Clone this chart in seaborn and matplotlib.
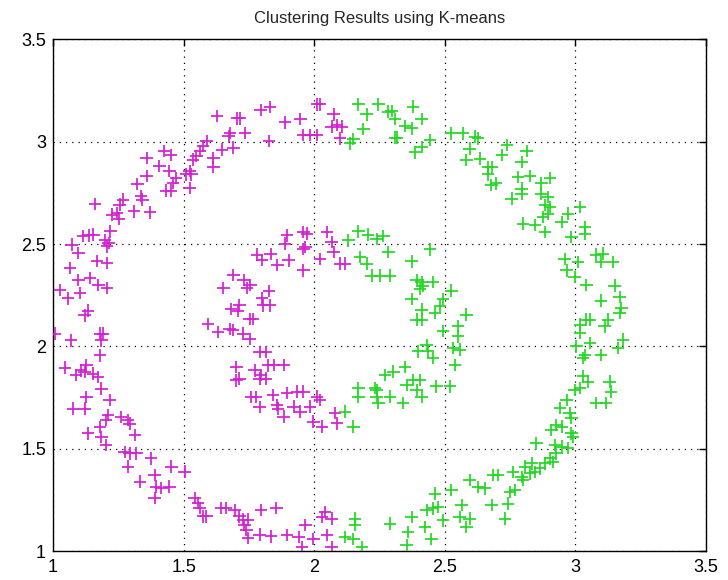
import matplotlib
matplotlib.use("Agg")
import matplotlib.pyplot as plt
import seaborn as sns
import pandas as pd

# ---- data (cluster 1: magenta, cluster 2: green) ----
magenta_x = [
    1.627, 1.704, 1.717, 1.795, 1.831, 1.827, 1.736, 1.678, 1.672, 1.691, 1.646, 1.614, 1.614, 1.588, 1.575,
    1.562, 1.549, 1.536, 1.523, 1.510, 1.530, 1.523, 1.472, 1.459, 1.433, 1.452, 1.426, 1.452, 1.407, 1.446,
    1.358, 1.358, 1.323, 1.336, 1.342, 1.310, 1.371, 1.267, 1.255, 1.245, 1.226, 1.252, 1.161, 1.220, 1.200,
    1.213, 1.207, 1.155, 1.136, 1.116, 1.071, 1.097, 1.065, 1.168, 1.207, 1.142, 1.097, 1.174, 1.207, 1.026,
    1.058, 1.103,
    1.782, 1.801, 1.833, 1.859, 1.691, 1.730, 1.756, 1.652, 1.743, 1.827, 1.801,
    1.889, 1.947, 1.959, 1.985, 2.010, 2.010, 2.023, 2.074, 2.067, 2.087, 2.106, 2.099,
    1.896, 1.889, 1.959, 1.972, 1.966, 1.959, 2.048, 2.067, 2.074, 2.023, 2.099, 2.118, 1.902, 1.959,
    1.134, 1.121, 1.006, 1.070, 1.179, 1.191, 1.185, 1.179, 1.045, 1.089, 1.108, 1.128, 1.121, 1.153, 1.172,
    1.185, 1.128, 1.121, 1.077, 1.217, 1.210, 1.204, 1.261, 1.287, 1.293, 1.313, 1.134, 1.179, 1.185, 1.204,
    1.274, 1.293, 1.319, 1.287, 1.376, 1.332, 1.389, 1.395, 1.415, 1.446, 1.453, 1.389, 1.504,
    1.542, 1.555, 1.561, 1.574, 1.587, 1.644, 1.663, 1.695, 1.714, 1.727, 1.746, 1.740, 1.733, 1.746, 1.791,
    1.835, 1.797, 1.855,
    1.804, 1.829, 1.682, 1.714, 1.708, 1.753, 1.765, 1.593, 1.631, 1.676, 1.689, 1.727, 1.753, 1.791, 1.816,
    1.823, 1.702, 1.714, 1.702, 1.772, 1.791, 1.797, 1.816, 1.759, 1.778, 1.791, 1.842, 1.861,
    1.883, 1.845, 1.896, 1.934, 1.959, 1.858, 1.883, 1.921, 1.947, 1.985, 2.010, 2.023, 1.997, 2.029, 2.080,
    2.087,
    1.966, 2.029, 2.042, 2.067, 1.896, 1.940, 1.953, 1.997, 2.048, 2.067,
]
magenta_y = [
    3.126, 3.114, 3.114, 3.154, 3.170, 3.003, 3.044, 3.044, 3.028, 2.971, 2.962, 2.922, 2.876, 3.003, 2.979,
    2.954, 2.930, 2.913, 2.856, 2.840, 2.840, 2.775, 2.824, 2.799, 2.761, 2.761, 2.954, 2.935, 2.881, 2.856,
    2.922, 2.832, 2.794, 2.734, 2.717, 2.660, 2.655, 2.717, 2.693, 2.652, 2.644, 2.624, 2.696, 2.562, 2.521,
    2.505, 2.489, 2.546, 2.542, 2.538, 2.497, 2.456, 2.382, 2.418, 2.407, 2.333, 2.325, 2.301, 2.284, 2.276,
    2.235, 2.260,
    2.448, 2.423, 2.451, 2.399, 2.350, 2.325, 2.301, 2.284, 2.284, 2.271, 2.235,
    3.095, 3.111, 3.033, 3.033, 3.033, 3.183, 3.183, 3.134, 3.074, 3.082, 3.074, 3.016,
    2.542, 2.502, 2.559, 2.551, 2.485, 2.477, 2.559, 2.510, 2.461, 2.428, 2.404, 2.404, 2.420, 2.371,
    2.175, 2.151, 2.062, 2.029, 2.062, 2.062, 2.029, 1.956, 1.896, 1.859, 1.883, 1.907, 1.875, 1.867, 1.851,
    1.794, 1.753, 1.696, 1.696, 1.737, 1.664, 1.640, 1.656, 1.640, 1.623, 1.567, 1.575, 1.607, 1.558, 1.518,
    1.485, 1.477, 1.477, 1.412, 1.453, 1.339, 1.372, 1.315, 1.307, 1.315, 1.412, 1.258, 1.388,
    1.258, 1.234, 1.209, 1.169, 1.169, 1.209, 1.209, 1.201, 1.169, 1.153, 1.153, 1.104, 1.128, 1.063, 1.080,
    1.071, 1.201, 1.209,
    2.200, 2.200, 2.183, 2.200, 2.175, 2.135, 2.135, 2.110, 2.070, 2.086, 2.081, 2.062, 2.037, 1.972, 1.972,
    1.907, 1.899, 1.843, 1.834, 1.883, 1.843, 1.859, 1.843, 1.753, 1.753, 1.705, 1.761, 1.696,
    1.910, 1.910, 1.771, 1.779, 1.779, 1.714, 1.657, 1.706, 1.681, 1.706, 1.755, 1.739, 1.632, 1.608, 1.673,
    1.624,
    1.126, 1.167, 1.191, 1.158, 1.077, 1.069, 1.020, 1.060, 1.077, 1.020,
]

green_x = [
    2.169, 2.201, 2.246, 2.284, 2.296, 2.309, 2.379, 2.411, 2.188, 2.150, 2.137, 2.309, 2.316, 2.347, 2.373,
    2.443, 2.411, 2.385, 2.525, 2.570, 2.615, 2.627, 2.595, 2.583, 2.634, 2.665, 2.665, 2.678, 2.697,
    2.737, 2.718, 2.679, 2.813, 2.794, 2.781, 2.826, 2.794, 2.794, 2.756, 2.870, 2.902, 2.870, 2.896, 2.883,
    2.902, 2.896, 2.877, 2.800, 2.845, 2.883, 2.947, 2.972, 3.017, 2.985, 3.036, 3.036, 2.959, 3.010, 2.966,
    2.997, 3.042, 3.080, 3.106, 3.099, 3.144, 3.150, 3.169, 3.099,
    3.176, 3.169, 3.125, 3.112, 3.055, 3.042, 3.017, 3.017, 3.004, 3.055, 3.036, 3.029, 3.099, 3.182, 3.163,
    3.029, 3.048, 3.017, 2.997, 3.131, 3.137, 3.080, 3.118, 2.966, 2.940, 2.978, 2.985, 2.927, 2.947, 2.908,
    2.985, 2.991, 2.851, 2.921, 2.947, 2.972, 2.927, 2.902, 2.915, 2.883, 2.864, 2.832, 2.807, 2.845, 2.826,
    2.800, 2.794, 2.762, 2.768, 2.749, 2.743, 2.730, 2.686, 2.679,
    2.131, 2.169, 2.207, 2.239, 2.265, 2.284, 2.176, 2.201, 2.220, 2.252, 2.290, 2.373, 2.443, 2.392, 2.411,
    2.417, 2.455, 2.405, 2.373, 2.525, 2.494,
    2.411, 2.411, 2.392, 2.462, 2.481, 2.583, 2.551, 2.494, 2.551, 2.557, 2.532, 2.430, 2.436, 2.455, 2.398,
    2.538, 2.347, 2.303, 2.271, 2.169, 2.169, 2.233, 2.239, 2.246, 2.239, 2.290, 2.341, 2.354, 2.379, 2.405,
    2.392, 2.411, 2.468, 2.519, 2.118, 2.150,
    2.156, 2.156, 2.118, 2.150, 2.182, 2.290, 2.373, 2.360, 2.354, 2.424, 2.449, 2.430, 2.455, 2.462, 2.475,
    2.494, 2.525, 2.564, 2.557, 2.595, 2.583, 2.595, 2.627, 2.653, 2.704,
]
green_y = [
    3.183, 3.134, 3.183, 3.147, 3.150, 3.111, 3.172, 3.111, 3.062, 3.013, 2.992, 3.020, 3.020, 3.078, 3.065,
    3.008, 2.975, 2.948, 3.041, 3.041, 3.025, 3.016, 2.967, 2.910, 2.918, 2.877, 2.840, 2.788, 2.796,
    2.984, 2.935, 2.877, 2.954, 2.902, 2.828, 2.833, 2.771, 2.747, 2.722, 2.796, 2.824, 2.747, 2.730, 2.690,
    2.681, 2.649, 2.632, 2.600, 2.592, 2.559, 2.608, 2.649, 2.681, 2.534, 2.583, 2.551, 2.428, 2.412, 2.371,
    2.338, 2.301, 2.448, 2.453, 2.412, 2.412, 2.297, 2.240, 2.224,
    2.188, 2.163, 2.131, 2.098, 2.131, 2.131, 2.106, 2.065, 2.000, 2.016, 1.959, 1.943, 1.959, 2.033, 1.992,
    1.853, 1.828, 1.796, 1.788, 1.828, 1.779, 1.722, 1.722, 1.739, 1.698, 1.673, 1.649, 1.616, 1.608, 1.591,
    1.575, 1.559, 1.526, 1.518, 1.510, 1.502, 1.477, 1.453, 1.436, 1.428, 1.404, 1.428, 1.412, 1.387, 1.379,
    1.346, 1.363, 1.387, 1.297, 1.289, 1.232, 1.158, 1.371, 1.224,
    2.518, 2.562, 2.546, 2.526, 2.539, 2.461, 2.436, 2.404, 2.346, 2.346, 2.346, 2.415, 2.474, 2.322, 2.314,
    2.297, 2.314, 2.281, 2.232, 2.273, 2.232,
    2.180, 2.131, 2.131, 2.163, 2.196, 2.155, 2.098, 2.074, 2.049, 1.984, 1.992, 2.008, 1.975, 1.943, 1.975,
    1.910, 1.899, 1.877, 1.861, 1.796, 1.755, 1.796, 1.788, 1.722, 1.755, 1.755, 1.722, 1.812, 1.837, 1.837,
    1.788, 1.755, 1.804, 1.804, 1.681, 1.608,
    1.158, 1.126, 1.069, 1.060, 1.020, 1.134, 1.167, 1.093, 1.028, 1.118, 1.060, 1.199, 1.208, 1.281, 1.216,
    1.150, 1.297, 1.224, 1.167, 1.158, 1.118, 1.346, 1.314, 1.306, 1.371,
]

cluster_names = ["Cluster 1", "Cluster 2"]
cluster_colors = ["#D41FD4", "#22D822"]
title_text = "Clustering Results using K-means"
x_ticks = [1, 1.5, 2, 2.5, 3, 3.5]
y_ticks = [1, 1.5, 2, 2.5, 3, 3.5]
x_ticklabels = ["1", "1.5", "2", "2.5", "3", "3.5"]
y_ticklabels = ["1", "1.5", "2", "2.5", "3", "3.5"]

df = pd.DataFrame({
    "x": magenta_x + green_x,
    "y": magenta_y + green_y,
    "cluster": [cluster_names[0]] * len(magenta_x) + [cluster_names[1]] * len(green_x),
})

sns.set_style("white")
plt.rcParams["font.family"] = ["Liberation Sans", "DejaVu Sans"]

fig = plt.figure(figsize=(7.28, 5.80), dpi=100)
ax = fig.add_axes([0.0728, 0.050, 0.897, 0.882])

sns.scatterplot(data=df, x="x", y="y", hue="cluster",
                palette=dict(zip(cluster_names, cluster_colors)),
                marker="+", s=80, linewidth=1.25, legend=False, ax=ax, zorder=3)

ax.set_xlim(1, 3.5)
ax.set_ylim(1, 3.5)
ax.set_xticks(x_ticks)
ax.set_yticks(y_ticks)
ax.set_xticklabels(x_ticklabels, fontsize=13)
ax.set_yticklabels(y_ticklabels, fontsize=13)
ax.set_xlabel("")
ax.set_ylabel("")
ax.grid(True, linestyle=(0, (1, 4)), color="black", linewidth=0.9)
ax.tick_params(direction="in", length=5, width=1, top=True, right=True,
               colors="black")
ax.tick_params(axis="x", pad=6)
ax.tick_params(axis="y", pad=5)
for sp in ax.spines.values():
    sp.set_visible(True)
    sp.set_color("black")
    sp.set_linewidth(1.0)
ax.set_title(title_text, fontsize=12, pad=12)

fig.savefig("out.png", dpi=100, facecolor="white")
